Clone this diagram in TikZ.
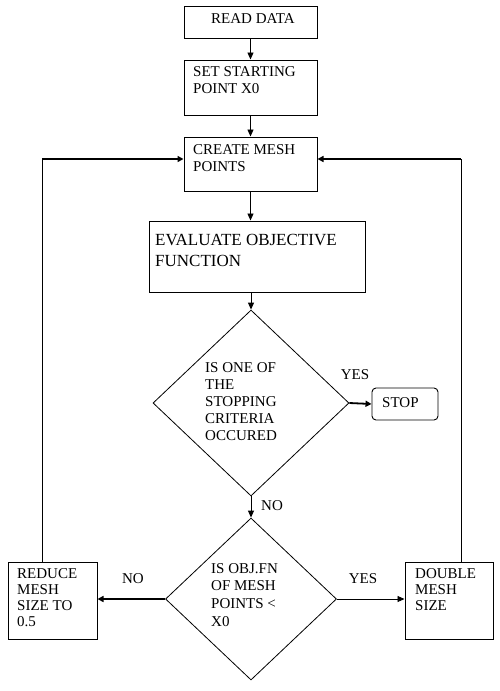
\documentclass[tikz,border=0pt]{standalone}
\usepackage{fontspec}
\setmainfont{Liberation Serif}
\usetikzlibrary{shapes.geometric,arrows.meta}

\tikzset{x=1pt, y=-1pt}
\tikzset{
  box/.style={draw, line width=1pt, inner sep=0pt},
  decision/.style={diamond, draw, line width=0.8pt, inner sep=0pt},
  stopbox/.style={draw, line width=0.9pt, rounded corners=4pt, inner sep=0pt},
  txt/.style={anchor=north west, inner sep=0pt, align=left, font=\fontsize{15}{17}\selectfont},
  lbl/.style={inner sep=0pt, font=\fontsize{15}{17}\selectfont},
  arr/.style={line width=0.9pt, -{Triangle[length=7pt,width=6pt]}},
  thickarr/.style={line width=1.8pt, -{Triangle[length=6pt,width=6pt]}},
}

\begin{document}
\begin{tikzpicture}
\useasboundingbox (0,0) rectangle (500,691);

% boxes down the middle
\node[box, minimum width=133, minimum height=32] (read) at (250.5,22) {};
\node[box, minimum width=133, minimum height=55] (start) at (250.5,87.5) {};
\node[box, minimum width=133, minimum height=54] (mesh) at (250.5,164) {};
\node[box, minimum width=216, minimum height=71] (eval) at (257,256.5) {};
\node[decision, minimum width=196, minimum height=186] (crit) at (251,403) {};
\node[stopbox, minimum width=66, minimum height=32] (stop) at (405,404) {};
\node[decision, minimum width=171, minimum height=162] (test) at (251,599) {};
\node[box, minimum width=89, minimum height=77] (reduce) at (52.5,600.5) {};
\node[box, minimum width=88, minimum height=77] (double) at (449,600.5) {};

% texts
\node[txt] (t-read) at (211,13.5) {READ DATA};
\node[txt] (t-start) at (193,66.5) {SET STARTING\\POINT X0};
\node[txt] (t-mesh) at (193,144) {CREATE MESH\\POINTS};
\node[txt, font=\fontsize{17}{21}\selectfont] (t-eval) at (155,234) {EVALUATE OBJECTIVE\\FUNCTION};
\node[txt] (t-crit) at (205,362) {IS ONE OF\\THE\\STOPPING\\CRITERIA\\OCCURED};
\node[txt] (t-stop) at (382,397) {STOP};
\node[txt, font=\fontsize{15}{17.7}\selectfont] (t-test) at (211,563) {IS OBJ.FN\\OF MESH\\POINTS <\\X0};
\node[txt, font=\fontsize{15}{16.2}\selectfont] (t-reduce) at (17,568) {REDUCE\\MESH\\SIZE TO\\0.5};
\node[txt, font=\fontsize{15}{16.2}\selectfont] (t-double) at (415,568) {DOUBLE\\MESH\\SIZE};

% branch labels
\node[lbl] (yes1) at (355,375) {YES};
\node[lbl] (no1) at (272,506) {NO};
\node[lbl] (no2) at (133,579) {NO};
\node[lbl] (yes2) at (363,579) {YES};

% main flow
\draw[arr] (read) -- (start);
\draw[arr] (start) -- (mesh);
\draw[arr] (mesh.south) -- (mesh.south |- eval.north);
\draw[arr] (eval.south -| crit.north) -- (crit.north);
\draw[arr] (crit) -- (test);
\draw[thickarr] (crit.east) -- (stop.west);
\draw[thickarr] (test.west) -- (reduce.east |- test.west);
\draw[arr] (test.east) -- (double.west |- test.east);

% loops back to the mesh box, edit here for the turn points
\coordinate (lturn) at (42,159);
\coordinate (rturn) at (461,159);
\draw[line width=0.8pt] (lturn |- reduce.north) -- (lturn);
\draw[thickarr] (lturn) -- (mesh.west |- lturn);
\draw[line width=0.8pt] (rturn |- double.north) -- (rturn);
\draw[thickarr] (rturn) -- (mesh.east |- rturn);
\end{tikzpicture}
\end{document}
